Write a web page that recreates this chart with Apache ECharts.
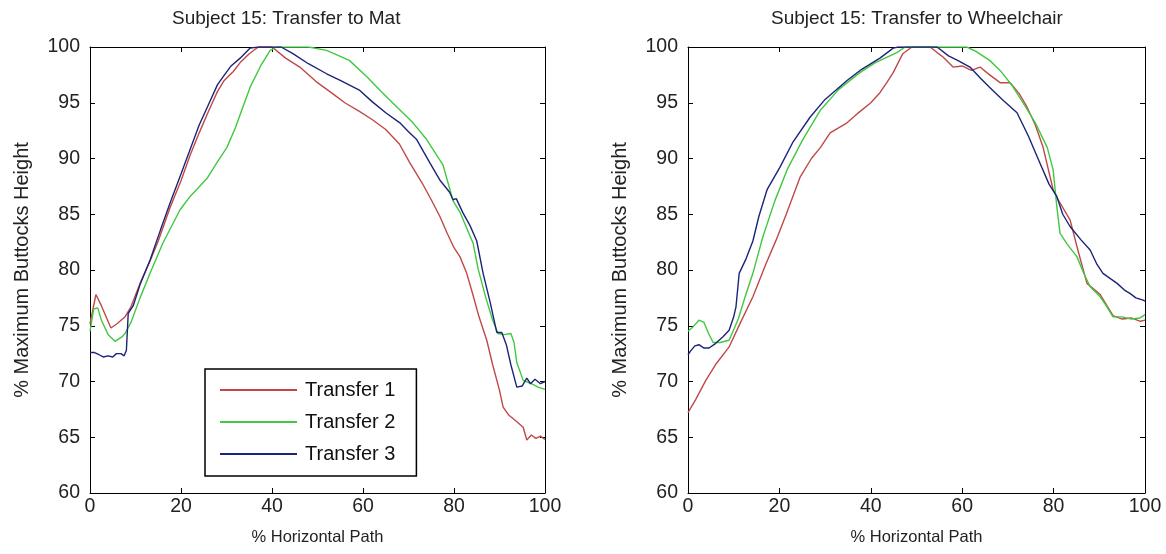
<!DOCTYPE html>
<html>
<head>
<meta charset="utf-8">
<script src="https://cdn.jsdelivr.net/npm/echarts@6/dist/echarts.min.js"></script>
<style>html,body{margin:0;padding:0;background:#fff}#c{width:1166px;height:554px}</style>
</head>
<body>
<div id="c"></div>
<script>
var titles = ['Subject 15: Transfer to Mat', 'Subject 15: Transfer to Wheelchair'];
var seriesNames = ['Transfer 1', 'Transfer 2', 'Transfer 3'];
var xTicks = [0, 20, 40, 60, 80, 100];
var yTicks = [60, 65, 70, 75, 80, 85, 90, 95, 100];

var matT1 = [[0,75.2],[1.3,77.8],[2.5,76.8],[4.6,74.8],[6,75.2],[7.7,75.8],[9,76.7],[11,78.8],[13.2,80.8],[15,82.6],[17.6,85.6],[20,88],[22,90.3],[24,92.3],[26,94.2],[28,96],[29.5,97],[31.5,97.8],[33,98.6],[35,99.4],[37,100],[40,100],[43,99],[46.1,98.2],[50,96.8],[53.4,95.8],[56,95],[59.3,94.2],[62,93.5],[65,92.6],[68,91.3],[70.3,89.6],[73,87.8],[75,86.3],[76.9,84.8],[78.5,83.3],[80,82],[81.3,81.2],[82.8,79.7],[84,78],[85.5,75.8],[87.2,73.7],[88.5,71.5],[90,69.2],[90.8,67.7],[92,67],[93.5,66.5],[95.2,65.9],[96,64.75],[97,65.2],[98,64.9],[99,65.1],[100,64.8]];
var matT2 = [[0,74.5],[0.8,76.5],[1.7,76.6],[2.5,75.5],[4,74.2],[5.5,73.6],[7,74],[7.7,74.3],[9,75.3],[11,77.5],[13.2,79.7],[16,82.4],[19.8,85.4],[22,86.6],[25.7,88.2],[28,89.7],[30.1,91],[32,92.8],[33.5,94.5],[35.2,96.4],[37.5,98.3],[39.6,99.7],[41,100],[48,100],[52,99.7],[57,98.8],[60.9,97.3],[64,96],[67,94.8],[71,93.2],[74,91.7],[77.6,89.4],[79.8,86.2],[81.3,85.2],[84.2,82.4],[85.3,80.1],[87,77.5],[88.5,75.5],[89.7,74.3],[91,74.2],[92.5,74.3],[93.2,73.5],[93.8,71.7],[95.2,70.1],[97,69.8],[98.5,69.5],[100,69.3]];
var matT3 = [[0,72.6],[1,72.6],[2,72.4],[2.9,72.2],[4,72.3],[5,72.2],[5.8,72.5],[6.8,72.5],[7.5,72.3],[8,72.8],[8.4,76.1],[9.5,76.8],[11,78.7],[13.2,80.9],[15.5,83.6],[17.6,86],[20,88.6],[22,90.8],[24,93],[26,94.8],[28,96.6],[29.2,97.3],[31,98.3],[33,99],[35.2,99.9],[37,100],[42,100],[44.6,99.4],[48,98.5],[52,97.6],[55,97],[59.3,96.1],[62,95.1],[65,94.1],[68.1,93.2],[70,92.4],[71.8,91.7],[74.7,89.6],[77,88],[79,87],[79.8,86.3],[80.5,86.4],[82,85.1],[83.5,84],[85,82.6],[86.4,79.7],[88,77],[89.4,74.4],[90.5,74.4],[91.5,73.3],[92.5,71.5],[93.8,69.5],[95,69.6],[96,70.3],[96.8,69.8],[97.8,70.2],[99,69.8],[100,70]];

var whT1 = [[0,67.2],[1.7,68.4],[3.9,70.1],[6,71.5],[9,73.1],[11.5,75.3],[14.2,77.6],[17,80.5],[19.3,82.7],[21.5,85],[24.5,88.3],[27,90],[29,91],[31.1,92.3],[34.8,93.2],[37,94],[40,95],[42,95.9],[43.5,96.8],[44.9,97.7],[47,99.4],[49,100],[53,100],[54.5,99.5],[55.8,99.1],[58,98.2],[60,98.3],[62,97.9],[63.9,98.2],[66,97.5],[68.3,96.8],[70.5,96.8],[72.5,95.8],[74.2,94.6],[76,93],[77.7,91],[79.9,87.2],[81,86.3],[83.6,84.5],[85.5,81.5],[87.3,78.8],[90.2,77.8],[93,75.9],[95,75.6],[97,75.7],[99,75.4],[100,75.5]];
var whT2 = [[0,74.5],[1.1,74.9],[2.4,75.5],[3.5,75.3],[4.5,74.3],[5.5,73.5],[7,73.5],[9,73.7],[11,75.6],[12.5,77.6],[14.2,79.7],[16.4,83],[19,86.2],[21.7,89],[25,91.6],[28.9,94.3],[33,96.2],[37.6,97.7],[41,98.6],[45.7,99.5],[47.5,100],[61,100],[63,99.6],[66,98.8],[68.3,97.9],[71,96.5],[73.3,95],[76,93.2],[78.6,91],[79.9,89],[80.7,85.7],[81.4,83.3],[83,82.3],[85.1,81.2],[86.5,79.8],[88,78.5],[90.2,77.6],[91.5,76.8],[93,75.8],[95,75.8],[97,75.6],[98.9,75.7],[100,76]];
var whT3 = [[0,72.4],[0.5,72.7],[1.5,73.2],[2.4,73.3],[3.5,73],[4.6,73],[6,73.4],[7.6,74],[9,74.6],[10,75.8],[10.5,76.7],[11.2,79.7],[12.7,81],[14.2,82.6],[15.5,84.8],[17.3,87.2],[20.1,89.2],[23,91.5],[26.7,93.7],[30,95.3],[34.8,97],[38,98],[42,99],[44.9,99.9],[46,100],[54.5,100],[57,99.2],[59,98.8],[61.7,98.2],[64,97.2],[66.7,96.1],[69,95.2],[72,94.1],[74.5,92],[77,89.6],[79,87.7],[80.7,86.6],[82,85],[83.6,83.9],[86,82.7],[88,81.8],[89.5,80.5],[90.8,79.7],[92.5,79.2],[93.9,78.8],[95.5,78.2],[96.7,77.9],[98,77.5],[99.6,77.3],[100,77.2]];

var colors = ['#c04848', '#40c840', '#1c2478'];
var FONT = 'Liberation Sans, Arial, sans-serif';
var grids = [
  {left: 90, top: 47, width: 455, height: 446},
  {left: 688, top: 47, width: 457, height: 446}
];

var xAxes = [], yAxes = [];
grids.forEach(function (g, gi) {
  var tick = {show: true, inside: true, length: 5, lineStyle: {color: '#000'}};
  var line = {show: true, onZero: false, lineStyle: {color: '#000', width: 1}};
  xAxes.push({type: 'value', gridIndex: gi, position: 'bottom', min: 0, max: 100, interval: 20,
    axisLine: line, axisTick: tick, splitLine: {show: false},
    axisLabel: {color: '#222', fontSize: 19.5, fontFamily: FONT, margin: 4},
    name: '% Horizontal Path', nameLocation: 'middle', nameGap: 36,
    nameTextStyle: {color: '#222', fontSize: 16.5, fontFamily: FONT}});
  xAxes.push({type: 'value', gridIndex: gi, position: 'top', min: 0, max: 100, interval: 20,
    axisLine: line, axisTick: tick, splitLine: {show: false}, axisLabel: {show: false}});
  yAxes.push({type: 'value', gridIndex: gi, position: 'left', min: 60, max: 100, interval: 5,
    axisLine: line, axisTick: tick, splitLine: {show: false},
    axisLabel: {color: '#222', fontSize: 19.5, fontFamily: FONT, margin: 10},
    name: '% Maximum Buttocks Height', nameLocation: 'middle', nameGap: 58,
    nameTextStyle: {color: '#222', fontSize: 20, fontFamily: FONT}});
  yAxes.push({type: 'value', gridIndex: gi, position: 'right', min: 60, max: 100, interval: 5,
    axisLine: line, axisTick: tick, splitLine: {show: false}, axisLabel: {show: false}});
});

var allData = [[matT1, matT2, matT3], [whT1, whT2, whT3]];
var series = [];
allData.forEach(function (set, gi) {
  set.forEach(function (d, si) {
    series.push({
      type: 'line', name: seriesNames[si], xAxisIndex: gi * 2, yAxisIndex: gi * 2,
      data: d, symbol: 'none', smooth: false, silent: true, animation: false,
      lineStyle: {color: colors[si], width: 1.4}, itemStyle: {color: colors[si]}
    });
  });
});

var chart = echarts.init(document.getElementById('c'));
chart.setOption({
  backgroundColor: '#fff',
  animation: false,
  title: [
    {text: titles[0], left: 167, top: 4,
     textStyle: {fontSize: 19, fontWeight: 'normal', color: '#222', fontFamily: FONT}},
    {text: titles[1], left: 766, top: 4,
     textStyle: {fontSize: 19, fontWeight: 'normal', color: '#222', fontFamily: FONT}}
  ],
  legend: {
    data: seriesNames, orient: 'vertical', left: 205, top: 369,
    icon: 'rect',
    backgroundColor: '#fff', borderColor: '#000', borderWidth: 1.5,
    padding: [11, 21, 12, 15], itemWidth: 77, itemHeight: 2, itemGap: 12,
    textStyle: {fontSize: 20, color: '#111', fontFamily: FONT, padding: [0, 0, 0, 3]}
  },
  grid: grids,
  xAxis: xAxes,
  yAxis: yAxes,
  series: series
});
</script>
</body>
</html>
